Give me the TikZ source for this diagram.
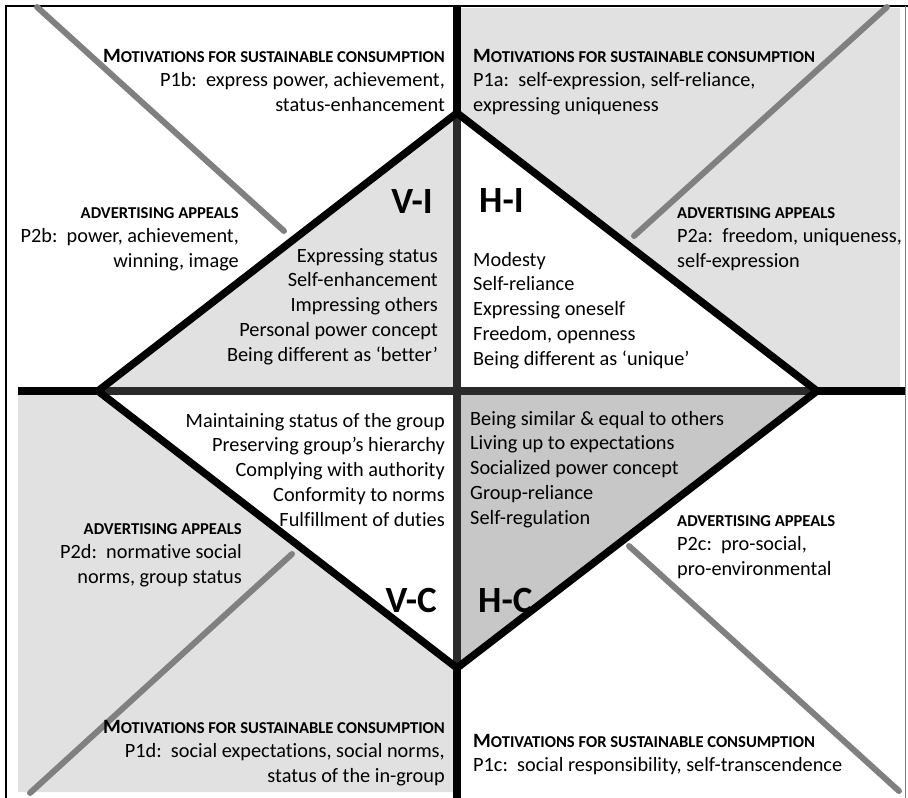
\documentclass[tikz,border=0pt]{standalone}
\usepackage{fontspec}
\setmainfont{Carlito}[Ligatures=NoCommon]

\definecolor{paleGray}{RGB}{225,225,225}
\definecolor{midGray}{RGB}{199,199,199}
\definecolor{spokeGray}{RGB}{128,128,128}
\definecolor{innerRule}{RGB}{42,42,42}

\newcommand{\bodyfont}{\fontsize{20.3}{24.8}\selectfont}
\newcommand{\motiv}{{\bfseries\fontsize{20.3}{24.8}\selectfont M\fontsize{16.6}{24.8}\selectfont OTIVATIONS FOR SUSTAINABLE CONSUMPTION}}
\newcommand{\advert}{{\bfseries\fontsize{16.6}{24.8}\selectfont ADVERTISING APPEALS}}
\newcommand{\linesR}[1]{\begin{tabular}[t]{@{}r@{}}#1\end{tabular}}
\newcommand{\linesL}[1]{\begin{tabular}[t]{@{}l@{}}#1\end{tabular}}

\begin{document}
\begin{tikzpicture}[x=1pt,y=-1pt,
  txt/.style={inner sep=0pt, font=\bodyfont},
  quad/.style={inner sep=0pt, font=\bfseries\fontsize{37}{37}\selectfont},
  heavy/.style={line width=7.5pt},
  spoke/.style={line width=6pt, draw=spokeGray, line cap=round}]
\useasboundingbox (0,0) rectangle (908,798);
\fill[white] (0,0) rectangle (908,798);

% diamond corners and centre
\coordinate (T) at (457,113);
\coordinate (B) at (457,668);
\coordinate (L) at (98,391);
\coordinate (R) at (817,391);
\coordinate (C) at (457,391);

% shaded regions
\fill[paleGray] (457,8) -- (900,8) -- (900,391) -- (R) -- (T) -- cycle;
\fill[paleGray] (18,391) -- (L) -- (B) -- (457,792) -- (18,792) -- cycle;
\fill[paleGray] (C) -- (L) -- (T) -- cycle;
\fill[midGray] (C) -- (R) -- (B) -- cycle;

% outer frame
\draw[line width=1.6pt] (6,798) -- (6,6) -- (908,6);
\draw[line width=0.8pt, draw=gray] (905,6) -- (905,798);

% diagonal spokes
\coordinate (s1a) at (37,7);   \coordinate (s1b) at (284,231);
\coordinate (s2a) at (887,7);  \coordinate (s2b) at (634,236);
\coordinate (s3a) at (30,793); \coordinate (s3b) at (292,554);
\coordinate (s4a) at (629,546);\coordinate (s4b) at (899,791);
\draw[spoke] (s1a) -- (s1b);
\draw[spoke] (s2a) -- (s2b);
\draw[spoke] (s3a) -- (s3b);
\draw[spoke] (s4a) -- (s4b);

% axes: dark inside the diamond, black outside
\draw[heavy, innerRule] (L) -- (R);
\draw[heavy, innerRule] (T) -- (B);
\draw[heavy] (18,391) -- (L);
\draw[heavy] (R) -- (905,391);
\draw[heavy] (457,6) -- (T);
\draw[heavy] (B) -- (457,798);

% diamond outline
\draw[heavy, line join=miter] (T) -- (R) -- (B) -- (L) -- cycle;

% upper left
\node[txt, anchor=base east] (ulm) at (445,62) {\linesR{\motiv\\
  P1b:\ \ express power, achievement,\\ status-enhancement}};
\node[txt, anchor=base east] (ula) at (239,218) {\linesR{\advert\\
  P2b:\ \ power, achievement,\\ winning, image}};
\node[quad, anchor=base east] (vi) at (433,213) {V-I};
\node[txt, anchor=base east] (ulv) at (438,262) {\linesR{Expressing status\\
  Self-enhancement\\ Impressing others\\ Personal power concept\\
  Being different as ‘better’}};

% upper right
\node[txt, anchor=base west] (urm) at (473,62) {\linesL{\motiv\\
  P1a:\ \ self-expression, self-reliance,\\ expressing uniqueness}};
\node[txt, anchor=base west] (ura) at (677,218) {\linesL{\advert\\
  P2a:\ \ freedom, uniqueness,\\ self-expression}};
\node[quad, anchor=base west] (hi) at (479,212) {H-I};
\node[txt, anchor=base west] (urv) at (473,266) {\linesL{Modesty\\
  Self-reliance\\ Expressing oneself\\ Freedom, openness\\
  Being different as ‘unique’}};

% lower left
\node[txt, anchor=base east] (llv) at (445,427) {\linesR{Maintaining status of the group\\
  Preserving group’s hierarchy\\ Complying with authority\\
  Conformity to norms\\ Fulfillment of duties}};
\node[txt, anchor=base east] (lla) at (242,534) {\linesR{\advert\\
  P2d:\ \ normative social\\ norms, group status}};
\node[quad, anchor=base east] (vc) at (437,612) {V-C};
\node[txt, anchor=base east] (llm) at (445,733) {\linesR{\motiv\\
  P1d:\ \ social expectations, social norms,\\ status of the in-group}};

% lower right
\node[txt, anchor=base west] (lrv) at (470,425) {\linesL{Being similar \& equal to others\\
  Living up to expectations\\ Socialized power concept\\
  Group-reliance\\ Self-regulation}};
\node[txt, anchor=base west] (lra) at (677,526) {\linesL{\advert\\
  P2c:\ \ pro-social,\\ pro-environmental}};
\node[quad, anchor=base west] (hc) at (478,612) {H-C};
\node[txt, anchor=base west] (lrm) at (473,747) {\linesL{\motiv\\
  P1c:\ \ social responsibility, self-transcendence}};
\end{tikzpicture}
\end{document}
